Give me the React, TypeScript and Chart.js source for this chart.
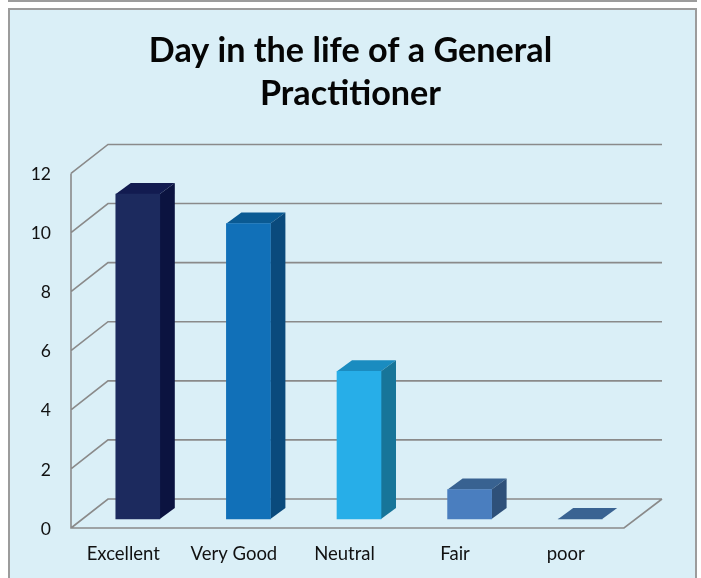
import React, { useEffect, useRef } from "react";
import { Chart, registerables } from "chart.js";

Chart.register(...registerables);

const categories = ["Excellent", "Very Good", "Neutral", "Fair", "poor"];
const responses = [11, 10, 5, 1, 0];
const yTickStep = 2;
const yMax = 12;
const titleLines = ["Day in the life of a General", "Practitioner"];
const frontColors = ["#1c2a5e", "#1170b8", "#27aee8", "#4a7ebf", "#3a6392"];
const topColors = ["#121b50", "#0a5a93", "#1a8cc0", "#386291", "#3a6392"];
const sideColors = ["#0b1340", "#0a4a7c", "#177599", "#2e5079", "#2e5079"];

const WALL_DX = 37;
const WALL_DY = -29;
const BAR_SHIFT_X = 11.5;
const BAR_SHIFT_Y = -9;
const BAR_DX = 15;
const BAR_DY = -11;
const GRID = "#8a8a8a";

const poly = (ctx: CanvasRenderingContext2D, pts: number[][], fill: string) => {
  ctx.beginPath();
  pts.forEach(([x, y], i) => (i ? ctx.lineTo(x, y) : ctx.moveTo(x, y)));
  ctx.closePath();
  ctx.fillStyle = fill;
  ctx.fill();
};

const scene3d = {
  id: "scene3d",
  beforeDraw(chart: any) {
    const { ctx, width, height } = chart;
    ctx.save();
    ctx.fillStyle = "#ffffff";
    ctx.fillRect(0, 0, width, height);
    ctx.strokeStyle = "#9c9c9c";
    ctx.lineWidth = 2;
    ctx.fillStyle = "#daeff7";
    ctx.fillRect(9, 9, 687, height);
    ctx.strokeRect(9, 9, 687, height);
    ctx.fillStyle = "#9c9c9c";
    ctx.fillRect(8, 0, 689, 2);
    ctx.restore();
  },
  beforeDatasetsDraw(chart: any) {
    const { ctx, scales } = chart;
    const { x: xs, y: ys } = scales;
    const left = xs.left;
    const right = xs.right;
    const y0 = ys.getPixelForValue(0);
    const y12 = ys.getPixelForValue(yMax);
    ctx.save();
    ctx.strokeStyle = GRID;
    ctx.lineWidth = 1.6;
    ctx.beginPath();
    ys.ticks.forEach((t: any) => {
      const y = ys.getPixelForValue(t.value);
      ctx.moveTo(left, y);
      ctx.lineTo(left + WALL_DX, y + WALL_DY);
      ctx.lineTo(right + WALL_DX + 1, y + WALL_DY);
    });
    ctx.moveTo(left, y12);
    ctx.lineTo(left, y0);
    ctx.lineTo(right, y0);
    ctx.lineTo(right + WALL_DX + 1, y0 + WALL_DY);
    ctx.stroke();
    ctx.restore();

    ctx.save();
    ctx.translate(BAR_SHIFT_X, BAR_SHIFT_Y);
    chart.getDatasetMeta(0).data.forEach((b: any, i: number) => {
      const l = b.x - b.width / 2;
      const r = b.x + b.width / 2;
      poly(ctx, [[l, b.y], [l + BAR_DX, b.y + BAR_DY], [r + BAR_DX, b.y + BAR_DY], [r, b.y]], topColors[i]);
      if (b.base - b.y > 0.5) {
        poly(ctx, [[r, b.y], [r + BAR_DX, b.y + BAR_DY], [r + BAR_DX, b.base + BAR_DY], [r, b.base]], sideColors[i]);
      }
    });
    ctx.restore();
    ctx.save();
    ctx.translate(BAR_SHIFT_X, BAR_SHIFT_Y);
  },
  afterDatasetsDraw(chart: any) {
    chart.ctx.restore();
  },
};

export default function App() {
  const ref = useRef<HTMLCanvasElement>(null);
  useEffect(() => {
    const chart = new Chart(ref.current!, {
      type: "bar",
      data: {
        labels: categories,
        datasets: [
          {
            data: responses,
            backgroundColor: frontColors,
            barThickness: 44,
            borderWidth: 0,
            clip: false,
          } as any,
        ],
      },
      options: {
        animation: false,
        responsive: false,
        layout: { autoPadding: false, padding: 0 },
        plugins: {
          legend: { display: false },
          tooltip: { enabled: false },
          title: {
            display: true,
            text: titleLines,
            color: "#050505",
            font: { family: "Lato", size: 34.2, weight: "bold", lineHeight: 1.257 },
            padding: { top: 29, bottom: 58.5 },
          },
        },
        scales: {
          x: {
            grid: { display: false },
            border: { display: false },
            ticks: {
              color: "#111111",
              font: { family: "Lato", size: 18.5 },
              padding: 7,
              labelOffset: -3,
              maxRotation: 0,
              autoSkip: false,
            },
            afterFit: (s: any) => {
              s.height = 50;
            },
          },
          y: {
            min: 0,
            max: yMax,
            grid: { display: false, drawTicks: false },
            border: { display: false },
            ticks: {
              stepSize: yTickStep,
              color: "#111111",
              font: { family: "Lato", size: 17.5 },
              padding: 20,
              labelOffset: 1,
            },
            afterFit: (s: any) => {
              s.width = 71;
            },
          },
          rightGutter: {
            position: "right",
            grid: { display: false, drawTicks: false },
            border: { display: false },
            ticks: { display: false },
            afterFit: (s: any) => {
              s.width = 77;
            },
          },
        },
      } as any,
      plugins: [scene3d],
    });
    return () => chart.destroy();
  }, []);
  return (
    <div style={{ position: "fixed", left: 0, top: 0, width: 701, height: 578, overflow: "hidden" }}>
      <canvas ref={ref} width={701} height={578} style={{ display: "block" }} />
    </div>
  );
}
